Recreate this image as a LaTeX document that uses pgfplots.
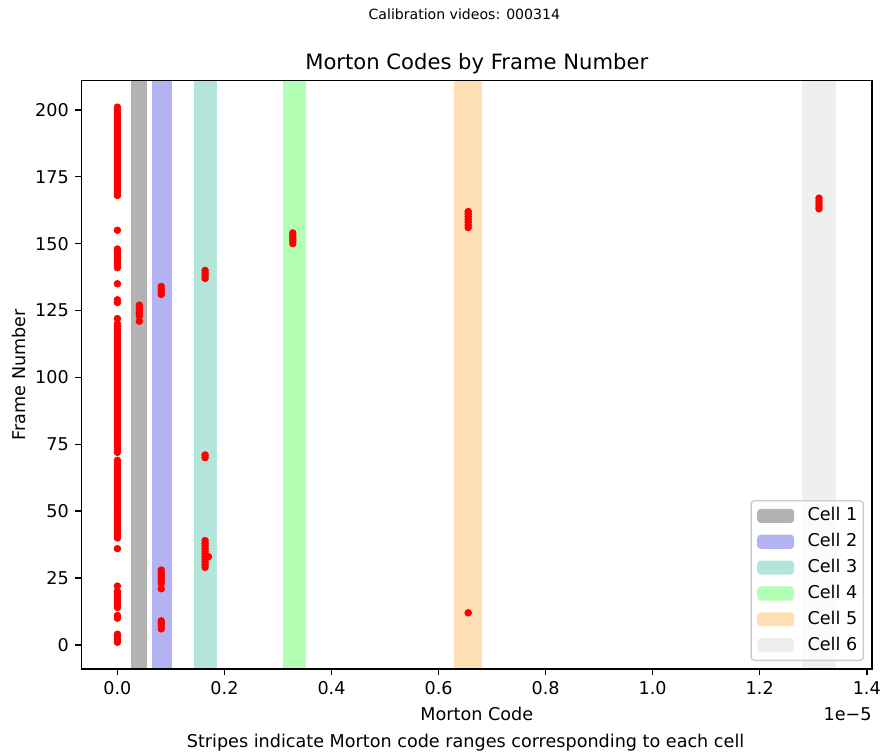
\documentclass[border=0pt]{standalone}
\usepackage{fontspec}
\setmainfont{DejaVu Sans}
\usepackage{pgfplots}
\pgfplotsset{compat=1.18}
\definecolor{cA}{RGB}{179,179,179}
\definecolor{cB}{RGB}{179,179,242}
\definecolor{cC}{RGB}{180,229,218}
\definecolor{cD}{RGB}{179,255,179}
\definecolor{cE}{RGB}{253,223,179}
\definecolor{cF}{RGB}{239,239,239}
\definecolor{legframe}{RGB}{204,204,204}
\pgfplotsset{stripe/.style={fill=#1, draw=none,
  legend image code/.code={\fill[#1, fill opacity=1] (0pt,-4pt) rectangle (21pt,4pt);}}}
\begin{document}
\begin{tikzpicture}
\begin{axis}[
  name=ax,
  scale only axis, width=449.15pt, height=334.4pt,
  xmin=-0.0671, xmax=1.4098, ymin=-9, ymax=211,
  axis on top,
  axis line style={line width=0.8pt},
  tick pos=left,
  tick align=outside, major tick length=3.5pt,
  tick style={black, line width=0.8pt},
  xtick={0,0.2,0.4,0.6,0.8,1.0,1.2,1.4},
  xticklabels={0.0,0.2,0.4,0.6,0.8,1.0,1.2,1.4},
  ytick={0,25,50,75,100,125,150,175,200},
  /pgf/number format/assume math mode=true,
  tick label style={font=\fontsize{10}{12}\selectfont},
  xticklabel style={anchor=north, inner sep=0pt, yshift=-3.5pt},
  yticklabel style={anchor=east, inner sep=0pt, xshift=-3.5pt},
  xlabel={Morton Code},
  xlabel style={at={(axis description cs:0.5,0)}, anchor=base, yshift=-29.4pt, inner sep=0pt, font=\fontsize{10}{12}\selectfont},
  ylabel={Frame Number},
  ylabel style={at={(axis description cs:0,0.5)}, anchor=base, yshift=31.6pt, inner sep=0pt, font=\fontsize{10}{12}\selectfont},
  title={Morton Codes by Frame Number},
  every axis title shift=0pt,
  title style={at={(axis description cs:0.5,1)}, anchor=base, yshift=6pt, inner sep=0pt, font=\fontsize{12}{14}\selectfont},
  legend style={at={(axis description cs:1,0)}, anchor=south east, xshift=-4.5pt, yshift=4.5pt,
    draw=legframe, line width=0.8pt, rounded corners=2pt, fill=white, fill opacity=0.8, text opacity=1,
    font=\fontsize{10}{12}\selectfont, row sep=5.5pt, inner xsep=3.5pt, inner ysep=4pt,
    nodes={inner sep=0pt, text height=7.5pt, text depth=1.7pt},
    /tikz/every odd column/.append style={column sep=7.6pt}},
  legend cell align=left,
]
\addplot[stripe=cA] coordinates {(0.0251,-9) (0.0251,211) (0.0560,211) (0.0560,-9)} -- cycle;
\addlegendentry{Cell 1}
\addplot[stripe=cB] coordinates {(0.0638,-9) (0.0638,211) (0.1015,211) (0.1015,-9)} -- cycle;
\addlegendentry{Cell 2}
\addplot[stripe=cC] coordinates {(0.1426,-9) (0.1426,211) (0.1855,211) (0.1855,-9)} -- cycle;
\addlegendentry{Cell 3}
\addplot[stripe=cD] coordinates {(0.3090,-9) (0.3090,211) (0.3519,211) (0.3519,-9)} -- cycle;
\addlegendentry{Cell 4}
\addplot[stripe=cE] coordinates {(0.6286,-9) (0.6286,211) (0.6820,211) (0.6820,-9)} -- cycle;
\addlegendentry{Cell 5}
\addplot[stripe=cF] coordinates {(1.2793,-9) (1.2793,211) (1.3427,211) (1.3427,-9)} -- cycle;
\addlegendentry{Cell 6}
% red points
\addplot[only marks, mark=*, mark size=1.9pt, color=red, mark options={draw=red, fill=red}, forget plot] coordinates {
(0,1)(0,2)(0,3)(0,4)(0,10)(0,11)(0,14)(0,15)(0,16)(0,17)(0,18)(0,19)(0,20)(0,22)(0,36)
(0,40)(0,41)(0,42)(0,43)(0,44)(0,45)(0,46)(0,47)(0,48)(0,49)(0,50)(0,51)(0,52)(0,53)(0,54)(0,55)(0,56)(0,57)(0,58)(0,59)(0,60)(0,61)(0,62)(0,63)(0,64)(0,65)(0,66)(0,67)(0,68)(0,69)
(0,72)(0,73)(0,74)(0,75)(0,76)(0,77)(0,78)(0,79)(0,80)(0,81)(0,82)(0,83)(0,84)(0,85)(0,86)(0,87)(0,88)(0,89)(0,90)(0,91)(0,92)(0,93)(0,94)(0,95)(0,96)(0,97)(0,98)(0,99)(0,100)(0,101)(0,102)(0,103)(0,104)(0,105)(0,106)(0,107)(0,108)(0,109)(0,110)(0,111)(0,112)(0,113)(0,114)(0,115)(0,116)(0,117)(0,118)(0,119)(0,120)
(0,122)(0,128)(0,129)(0,135)(0,141)(0,142)(0,143)(0,144)(0,145)(0,146)(0,147)(0,148)(0,155)
(0,168)(0,169)(0,170)(0,171)(0,172)(0,173)(0,174)(0,175)(0,176)(0,177)(0,178)(0,179)(0,180)(0,181)(0,182)(0,183)(0,184)(0,185)(0,186)(0,187)(0,188)(0,189)(0,190)(0,191)(0,192)(0,193)(0,194)(0,195)(0,196)(0,197)(0,198)(0,199)(0,200)(0,201)
(0.04096,121)(0.04096,123)(0.04096,124)(0.04096,125)(0.04096,126)(0.04096,127)
(0.08192,6)(0.08192,7)(0.08192,8)(0.08192,9)(0.08192,21)(0.08192,23)(0.08192,24)(0.08192,25)(0.08192,26)(0.08192,27)(0.08192,28)
(0.08192,131)(0.08192,132)(0.08192,133)(0.08192,134)
(0.16384,29)(0.16384,30)(0.16384,31)(0.16384,32)(0.16384,33)(0.16384,34)(0.16384,35)(0.16384,36)(0.16384,37)(0.16384,38)(0.16384,39)(0.1700,33)
(0.16384,70)(0.16384,71)(0.16384,137)(0.16384,138)(0.16384,139)(0.16384,140)
(0.32768,150)(0.32768,151)(0.32768,152)(0.32768,153)(0.32768,154)
(0.65536,12)(0.65536,156)(0.65536,157)(0.65536,158)(0.65536,159)(0.65536,160)(0.65536,161)(0.65536,162)
(1.31072,163)(1.31072,164)(1.31072,165)(1.31072,166)(1.31072,167)
};
\end{axis}
\node[anchor=base east, inner sep=0pt, font=\fontsize{10}{12}\selectfont] at ([yshift=-29.4pt]ax.south east) {1e−5};
\node[anchor=base, inner sep=0pt, font=\fontsize{8}{10}\selectfont] at ([xshift=217.5pt, yshift=34.8pt]ax.north west) {Calibration videos: 000314};
\node[anchor=base, inner sep=0pt, font=\fontsize{10}{12}\selectfont] at ([xshift=218.2pt, yshift=-44.5pt]ax.south west) {Stripes indicate Morton code ranges corresponding to each cell};
\pgfresetboundingbox
\path ([xshift=-46.3pt,yshift=-47.7pt]ax.south west) rectangle ([xshift=6.8pt,yshift=45.7pt]ax.north east);
\end{tikzpicture}
\end{document}
